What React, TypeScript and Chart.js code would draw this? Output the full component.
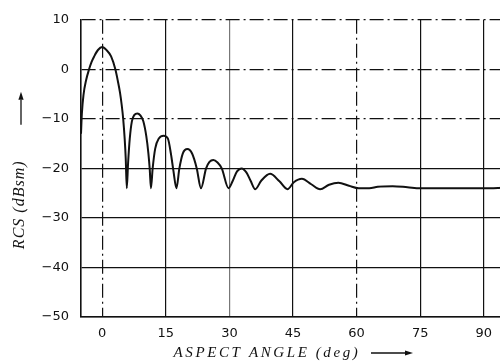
import { useEffect, useRef } from "react";
import { Chart, registerables } from "chart.js";

Chart.register(...registerables);

// Monostatic RCS versus aspect angle (degrees, dBsm)
const aspectAngle = [
  -5.0, -4.8, -4.4, -3.8, -3.1, -2.5, -1.9, -1.0, 0, 1.0, 2.1, 3.1, 3.7, 4.2, 4.6, 4.95, 5.3, 5.55, 5.8,
  6.1, 6.5, 7.0, 7.6, 8.3, 9.0, 9.7, 10.4, 10.9, 11.2, 11.5,
  11.9, 12.5, 13.4, 14.5, 15.5, 16.2, 16.8, 17.5,
  18.2, 19.0, 20.1, 21.2, 22.3, 23.3,
  24.5, 25.3, 26.2, 27.2, 28.2, 29.8,
  30.8, 31.8, 32.9, 34.0, 35.0, 36.1,
  37.5, 39.6, 41.8, 43.7,
  45.2, 47.1, 49.3, 51.4,
  53.5, 55.7, 58.2, 60.5, 63.0, 65.0, 68.5, 72.0, 75.0, 80.0, 85.0, 90.0, 95.0,
];

const rcsDbsm = [
  -13, -9, -5.1, -2.2, 0, 1.5, 2.6, 3.9, 4.5, 3.9, 2.6, 0, -2.4, -4.7, -7.2, -10, -14, -18, -24,
  -19, -14, -10.5, -9.2, -8.9, -9.3, -10.5, -13.5, -17, -20, -24,
  -20, -16, -13.9, -13.4, -14, -17, -20.5, -24,
  -20, -17, -16.1, -17, -20, -24,
  -20, -18.7, -18.3, -18.8, -20, -24,
  -22.5, -20.6, -20, -20.8, -22.5, -24.2,
  -22.5, -21.1, -22.6, -24.2,
  -22.8, -22.1, -23.2, -24.2,
  -23.3, -22.9, -23.5, -24.0, -24.0, -23.7, -23.6, -23.8, -24.0, -24.0, -24.0, -24.0, -23.9,
];

const angleTicks = [0, 15, 30, 45, 60, 75, 90];
const angleRange = [-5, 95];
const rcsRange = [-50, 10];
const rcsStep = 10;

// grid lines drawn dash-dot rather than solid
const dashDotAngles = [0, 60];
const dashDotLevels = [10, 0, -10];
const lightAngles = [30];

const xTitle = "ASPECT ANGLE (deg)";
const yTitle = "RCS (dBsm)";

const DASH_DOT = [14, 4, 2, 4];

const fmtTick = (v: number) => (v < 0 ? "\u2212" + Math.abs(v) : String(v));

function drawArrow(ctx: CanvasRenderingContext2D, x1: number, y1: number, x2: number, y2: number) {
  const ang = Math.atan2(y2 - y1, x2 - x1);
  const head = 8;
  const bx = x2 - head * Math.cos(ang);
  const by = y2 - head * Math.sin(ang);
  ctx.beginPath();
  ctx.moveTo(x1, y1);
  ctx.lineTo(bx, by);
  ctx.stroke();
  const px = -Math.sin(ang) * 2.6;
  const py = Math.cos(ang) * 2.6;
  ctx.beginPath();
  ctx.moveTo(x2, y2);
  ctx.lineTo(bx + px, by + py);
  ctx.lineTo(bx - px, by - py);
  ctx.closePath();
  ctx.fill();
}

const captionPlugin = {
  id: "axisCaptions",
  afterDraw(chart: any) {
    const { ctx, chartArea } = chart;
    ctx.save();
    ctx.fillStyle = "#111";
    ctx.strokeStyle = "#111";
    ctx.lineWidth = 1.3;
    ctx.textAlign = "center";
    ctx.textBaseline = "middle";

    // vertical caption with upward arrow
    ctx.font = 'italic 16px "Liberation Serif"';
    (ctx as any).letterSpacing = "1px";
    const yc = chartArea.top + 185;
    const xc = chartArea.left - 61;
    ctx.save();
    ctx.translate(xc, yc);
    ctx.rotate(-Math.PI / 2);
    ctx.fillText(yTitle, 0, 0);
    ctx.restore();
    drawArrow(ctx, xc + 1, yc - 80, xc + 1, yc - 113);

    // horizontal caption with rightward arrow
    ctx.font = 'italic 15px "Liberation Serif"';
    (ctx as any).letterSpacing = "2.6px";
    const xy = chartArea.bottom + 36;
    const xx = chartArea.left + 186;
    ctx.fillText(xTitle, xx, xy);
    drawArrow(ctx, xx + 104, xy, xx + 146, xy);

    (ctx as any).letterSpacing = "0px";
    ctx.restore();
  },
};

export default function App() {
  const canvasRef = useRef<HTMLCanvasElement | null>(null);

  useEffect(() => {
    const canvas = canvasRef.current;
    if (!canvas) return;
    const points = aspectAngle.map((a, i) => ({ x: a, y: rcsDbsm[i] }));

    const chart = new Chart(canvas, {
      type: "line",
      data: {
        datasets: [
          {
            data: points,
            borderColor: "#111",
            borderWidth: 2,
            pointRadius: 0,
            fill: false,
            cubicInterpolationMode: "monotone",
          },
        ],
      },
      options: {
        animation: false,
        responsive: false,
        devicePixelRatio: 1,
        layout: { padding: { left: 0, top: 13, right: 15, bottom: 0 } },
        plugins: {
          legend: { display: false },
          tooltip: { enabled: false },
        },
        scales: {
          x: {
            type: "linear",
            min: angleRange[0],
            max: angleRange[1],
            afterBuildTicks: (axis: any) => {
              axis.ticks = angleTicks.map((v) => ({ value: v }));
            },
            afterFit: (axis: any) => {
              axis.height = 47;
            },
            ticks: {
              padding: 9,
              color: "#111",
              font: { family: '"DejaVu Sans"', size: 13 },
              maxRotation: 0,
              autoSkip: false,
              callback: (v: any) => fmtTick(Number(v)),
            },
            grid: {
              drawTicks: false,
              color: (c: any) =>
                c.tick && lightAngles.includes(c.tick.value) ? "#777" : "#111",
              lineWidth: 1.2,
            },
            border: {
              display: true,
              color: "#111",
              width: 1.6,
              dash: (c: any) =>
                c.tick && dashDotAngles.includes(c.tick.value) ? DASH_DOT : [],
            },
          },
          y: {
            type: "linear",
            min: rcsRange[0],
            max: rcsRange[1],
            afterFit: (axis: any) => {
              axis.width = 81;
            },
            ticks: {
              stepSize: rcsStep,
              padding: 12,
              color: "#111",
              font: { family: '"DejaVu Sans"', size: 13 },
              callback: (v: any) => fmtTick(Number(v)),
            },
            grid: {
              drawTicks: false,
              color: "#111",
              lineWidth: 1.2,
            },
            border: {
              display: true,
              color: "#111",
              width: 1.6,
              dash: (c: any) =>
                c.tick && dashDotLevels.includes(c.tick.value) ? DASH_DOT : [],
            },
          },
        },
      },
      plugins: [captionPlugin],
    } as any);

    return () => chart.destroy();
  }, []);

  return (
    <div
      style={{
        position: "fixed",
        left: 0,
        top: 0,
        width: 500,
        height: 364,
        overflow: "hidden",
        background: "#fff",
      }}
    >
      <canvas
        ref={canvasRef}
        width={520}
        height={364}
        style={{ display: "block", width: 520, height: 364 }}
      />
    </div>
  );
}
